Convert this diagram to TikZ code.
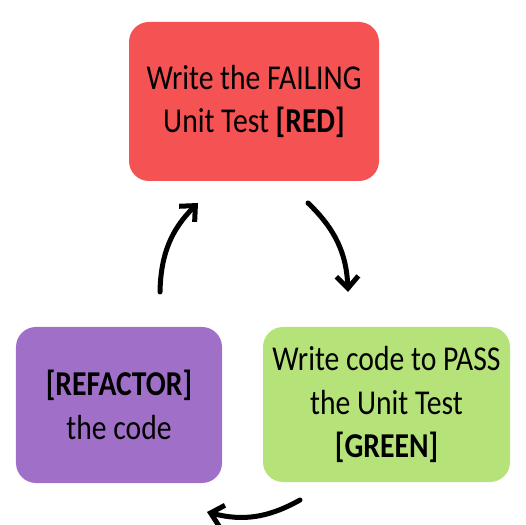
\documentclass[tikz,border=0pt]{standalone}
\usepackage{fontspec}
\setmainfont[FakeStretch=0.85]{Carlito}
\usetikzlibrary{arrows.meta}
\definecolor{redbox}{RGB}{245,82,84}
\definecolor{purplebox}{RGB}{160,112,200}
\definecolor{greenbox}{RGB}{182,226,122}
\tikzset{
  stagebox/.style={rounded corners=20bp, inner sep=0pt, align=center,
    font=\fontsize{35}{44}\selectfont, text=black},
  cyclearrow/.style={line width=5bp, line cap=round, bend left=22,
    -{Straight Barb[length=12bp,width=22bp,line width=5bp]}}
}
\begin{document}
\begin{tikzpicture}[x=1bp,y=1bp]
\useasboundingbox (0,0) rectangle (526,525);
\node[stagebox, fill=redbox, minimum width=250bp, minimum height=159bp] (red) at (254,423.5)
  {Write the FAILING\\Unit Test \textbf{[RED]}};
\node[stagebox, fill=purplebox, minimum width=206bp, minimum height=156bp] (refactor) at (119,120)
  {\textbf{[REFACTOR]}\\the code};
\node[stagebox, fill=greenbox, minimum width=247bp, minimum height=155bp] (green) at (386.5,120.5)
  {Write code to PASS\\the Unit Test\\\textbf{[GREEN]}};
\coordinate (a1s) at (160,233);
\coordinate (a1e) at (198,322);
\coordinate (a2s) at (308,322);
\coordinate (a2e) at (348,233);
\coordinate (a3s) at (300,25);
\coordinate (a3e) at (207,13);
\draw[cyclearrow] (a1s) to (a1e);
\draw[cyclearrow] (a2s) to (a2e);
\draw[cyclearrow] (a3s) to (a3e);
\end{tikzpicture}
\end{document}
